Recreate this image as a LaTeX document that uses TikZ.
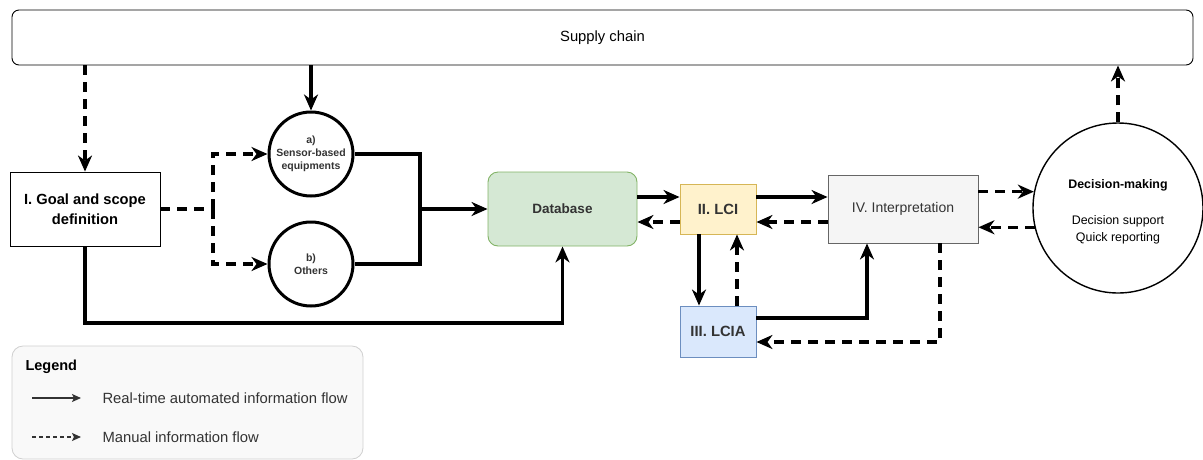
\documentclass[tikz,border=0pt]{standalone}
\usepackage{fontspec}
\setmainfont{Liberation Sans}
\usetikzlibrary{arrows.meta,shapes.geometric}
\definecolor{dbfill}{HTML}{D5E8D4}\definecolor{dbline}{HTML}{82B366}
\definecolor{lcifill}{HTML}{FFF2CC}\definecolor{lciline}{HTML}{D6B656}
\definecolor{lciafill}{HTML}{DAE8FC}\definecolor{lcialine}{HTML}{6C8EBF}
\definecolor{intfill}{HTML}{F5F5F5}\definecolor{intline}{HTML}{666666}
\definecolor{legfill}{HTML}{F9F9F9}\definecolor{legline}{HTML}{D0D0D0}
\definecolor{txt}{HTML}{333333}
\tikzset{
  fs/.style args={#1/#2}{font=\fontsize{#1}{#2}\selectfont},
  bfs/.style args={#1/#2}{font=\bfseries\fontsize{#1}{#2}\selectfont},
  box/.style={draw, line width=0.9pt, inner sep=0pt, align=center},
  flow/.style={line width=3.2pt, -{Stealth[length=16pt,width=14pt,inset=5pt]}},
  manual/.style={flow, dash pattern=on 10pt off 7pt},
  plain/.style={line width=3.2pt},
  plaindash/.style={line width=3.2pt, dash pattern=on 10pt off 7pt},
  ring/.style={circle, draw, line width=3pt, minimum size=84pt, inner sep=0pt, align=center, bfs=10.5/13, text=txt},
  legarrow/.style={line width=1.2pt, draw=txt, -{Stealth[length=9pt,width=8pt,inset=2pt]}},
}
\begin{document}
\begin{tikzpicture}[x=1pt,y=-1pt]
\useasboundingbox (0,0) rectangle (1203,459);

% legend panel
\draw[legline, fill=legfill, rounded corners=11pt, line width=0.8pt] (12,346) rectangle (363,459);
\node[anchor=west, bfs=14.5/16, text=black] (legt) at (22,367) {Legend};
\coordinate (la1) at (32,398); \coordinate (lb1) at (81,398);
\coordinate (la2) at (32,437); \coordinate (lb2) at (81,437);
\draw[legarrow] (la1) -- (lb1);
\draw[legarrow, dash pattern=on 4pt off 3pt] (la2) -- (lb2);
\node[anchor=west, fs=14.8/16, text=txt] (leg1) at (99,398) {Real-time automated information flow};
\node[anchor=west, fs=14.8/16, text=txt] (leg2) at (99,437) {Manual information flow};

% main nodes
\node[box, rounded corners=7pt, minimum width=1181pt, minimum height=55pt, fs=14.8/16] (sc) at (602.5,37.5) {Supply chain};
\node[box, minimum width=150pt, minimum height=74pt, bfs=14.7/19.5] (goal) at (85,209) {I. Goal and scope\\definition};
\node[ring] (sens) at (311,154) {a)\\Sensor-based\\equipments};
\node[ring] (oth) at (311,264) {b)\\Others};
\node[box, draw=dbline, fill=dbfill, rounded corners=10pt, minimum width=149pt, minimum height=74pt, text=txt, bfs=13.5/15] (db) at (562.5,209) {Database};
\node[box, draw=lciline, fill=lcifill, minimum width=76pt, minimum height=50pt, text=txt, bfs=14.8/16] (lci) at (718,209) {II. LCI};
\node[box, draw=lcialine, fill=lciafill, minimum width=76pt, minimum height=51pt, text=txt, bfs=14.8/16] (lcia) at (718,331.5) {III. LCIA};
\node[box, draw=intline, fill=intfill, minimum width=150pt, minimum height=68pt, text=txt, fs=14/16] (int) at (903,209) {IV. Interpretation};
\node[circle, draw, line width=1.4pt, minimum size=170pt, inner sep=0pt] (dec) at (1118,208) {};
\node[align=center, fs=12.4/17.5, text=black] (dect) at (1118,212) {\textbf{Decision-making}\\[18pt]Decision support\\Quick reporting};

% supply chain to goal and to sensors
\draw[manual] (sc.south -| goal.north) -- (goal.north);
\draw[flow] (sc.south -| sens.north) -- (sens.north);

% goal branches to both data sources
\coordinate (split) at (213,209);
\draw[plaindash] (goal.east) -- (split);
\draw[manual] (split) |- (sens.west);
\draw[manual] (split) |- (oth.west);

% data sources merge into the database
\coordinate (jn) at (420,209);
\draw[plain] (sens.east) -| (jn);
\draw[plain] (oth.east) -| (jn);
\draw[flow] (jn) -- (db.west);

% goal directly to the database
\coordinate (gb) at (85,323);
\draw[flow] (goal.south) -- (gb) -| (db.south);

% database and LCI
\draw[flow] ([yshift=12pt]db.east) -- ([yshift=12pt]db.east -| lci.west);
\draw[manual] ([yshift=-13pt]lci.west) -- ([yshift=-13pt]lci.west -| db.east);

% LCI and LCIA
\draw[flow] ([xshift=-19pt]lci.south) -- ([xshift=-19pt]lcia.north);
\draw[manual] ([xshift=19pt]lcia.north) -- ([xshift=19pt]lci.south);

% LCI and interpretation
\draw[flow] ([yshift=12pt]lci.east) -- ([yshift=12pt]lci.east -| int.west);
\draw[manual] ([yshift=-13pt]int.west) -- ([yshift=-13pt]int.west -| lci.east);

% LCIA and interpretation
\draw[flow] ([yshift=13.5pt]lcia.east) -| ([xshift=-36pt]int.south);
\draw[manual] ([xshift=37pt]int.south) |- ([yshift=-10.5pt]lcia.east);

% interpretation and decision-making
\draw[manual] (int.east |- dec.169) -- (dec.169);
\draw[manual] (dec.193) -- (dec.193 -| int.east);

% decision-making back to the supply chain
\draw[manual] (dec.north) -- (dec.north |- sc.south);
\end{tikzpicture}
\end{document}
